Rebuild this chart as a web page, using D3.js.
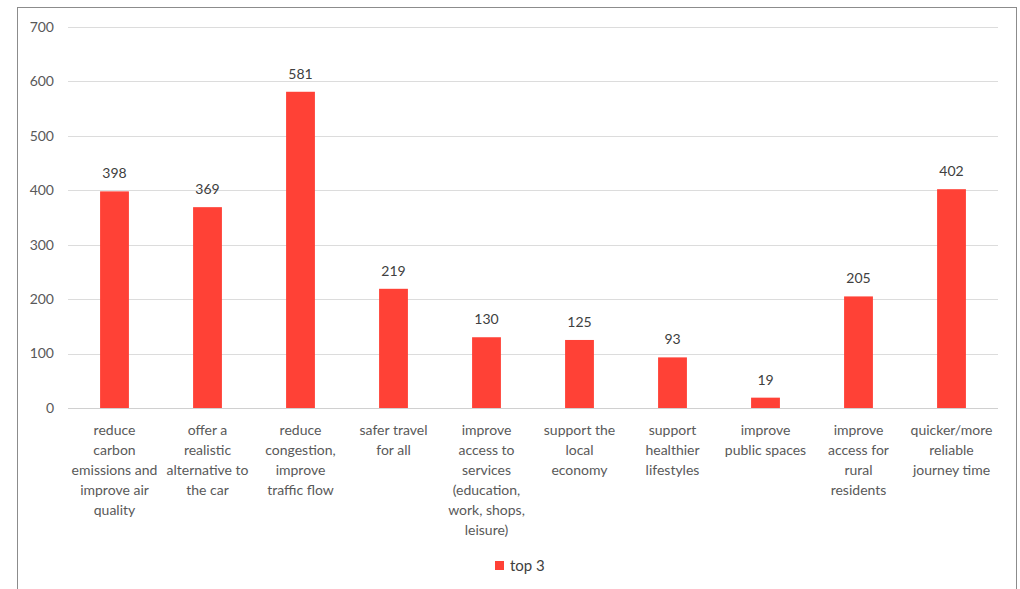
<!DOCTYPE html>
<html><head><meta charset="utf-8">
<script src="https://cdn.jsdelivr.net/npm/d3@7"></script>
<style>body{margin:0;background:#fff;}svg{display:block;font-family:Lato,"Open Sans",sans-serif;}</style>
</head><body><svg id="c" width="1020" height="589"></svg>
<script>
const categories = [
  ["reduce","carbon","emissions and","improve air","quality"],
  ["offer a","realistic","alternative to","the car"],
  ["reduce","congestion,","improve","traffic flow"],
  ["safer travel","for all"],
  ["improve","access to","services","(education,","work, shops,","leisure)"],
  ["support the","local","economy"],
  ["support","healthier","lifestyles"],
  ["improve","public spaces"],
  ["improve","access for","rural","residents"],
  ["quicker/more","reliable","journey time"]
];
const values = [398, 369, 581, 219, 130, 125, 93, 19, 205, 402];
const yTicks = [0, 100, 200, 300, 400, 500, 600, 700];
const seriesName = "top 3";

(function(){
const svg = d3.select("#c");
svg.append("rect").attr("x",17.5).attr("y",7.5).attr("width",999).attr("height",600)
  .attr("fill","#fff").attr("stroke","#8c8c8c").attr("stroke-width",1);

const pL=68, pR=998, pT=27, pB=408;
const x = d3.scaleBand().domain(d3.range(values.length)).range([pL,pR]).paddingInner(0.69).paddingOuter(0.345);
const y = d3.scaleLinear().domain([0,700]).range([pB,pT]);

const g = svg.append("g");
g.selectAll("line.grid").data(yTicks).join("line")
  .attr("x1",pL).attr("x2",pR)
  .attr("y1",d=>Math.round(y(d))+0.5).attr("y2",d=>Math.round(y(d))+0.5)
  .attr("stroke",d=>d===0?"#d0d0d0":"#dcdcdc").attr("stroke-width",1);

g.selectAll("text.yt").data(yTicks).join("text")
  .attr("x",54).attr("y",d=>y(d)).attr("dy","0.35em").attr("text-anchor","end")
  .attr("fill","#595959").attr("font-size",14).text(d=>d);

g.selectAll("rect.bar").data(values).join("rect")
  .attr("x",(d,i)=>x(i)).attr("width",x.bandwidth())
  .attr("y",d=>y(d)).attr("height",d=>y(0)-y(d)).attr("fill","#FF4136");

g.selectAll("text.val").data(values).join("text")
  .attr("x",(d,i)=>x(i)+x.bandwidth()/2).attr("y",d=>y(d)-13)
  .attr("text-anchor","middle").attr("fill","#404040").attr("font-size",14).text(d=>d);

categories.forEach((lines,i)=>{
  const t = g.append("text").attr("text-anchor","middle").attr("fill","#595959").attr("font-size",14);
  lines.forEach((ln,j)=>{
    t.append("tspan").attr("x",x(i)+x.bandwidth()/2).attr("y",435+j*20).text(ln);
  });
});

const lg = svg.append("g");
lg.append("rect").attr("x",495).attr("y",561).attr("width",9).attr("height",9).attr("fill","#FF4136");
lg.append("text").attr("x",510).attr("y",566).attr("dy","0.35em").attr("fill","#404040").attr("font-size",15).text(seriesName);
})();
</script></body></html>
